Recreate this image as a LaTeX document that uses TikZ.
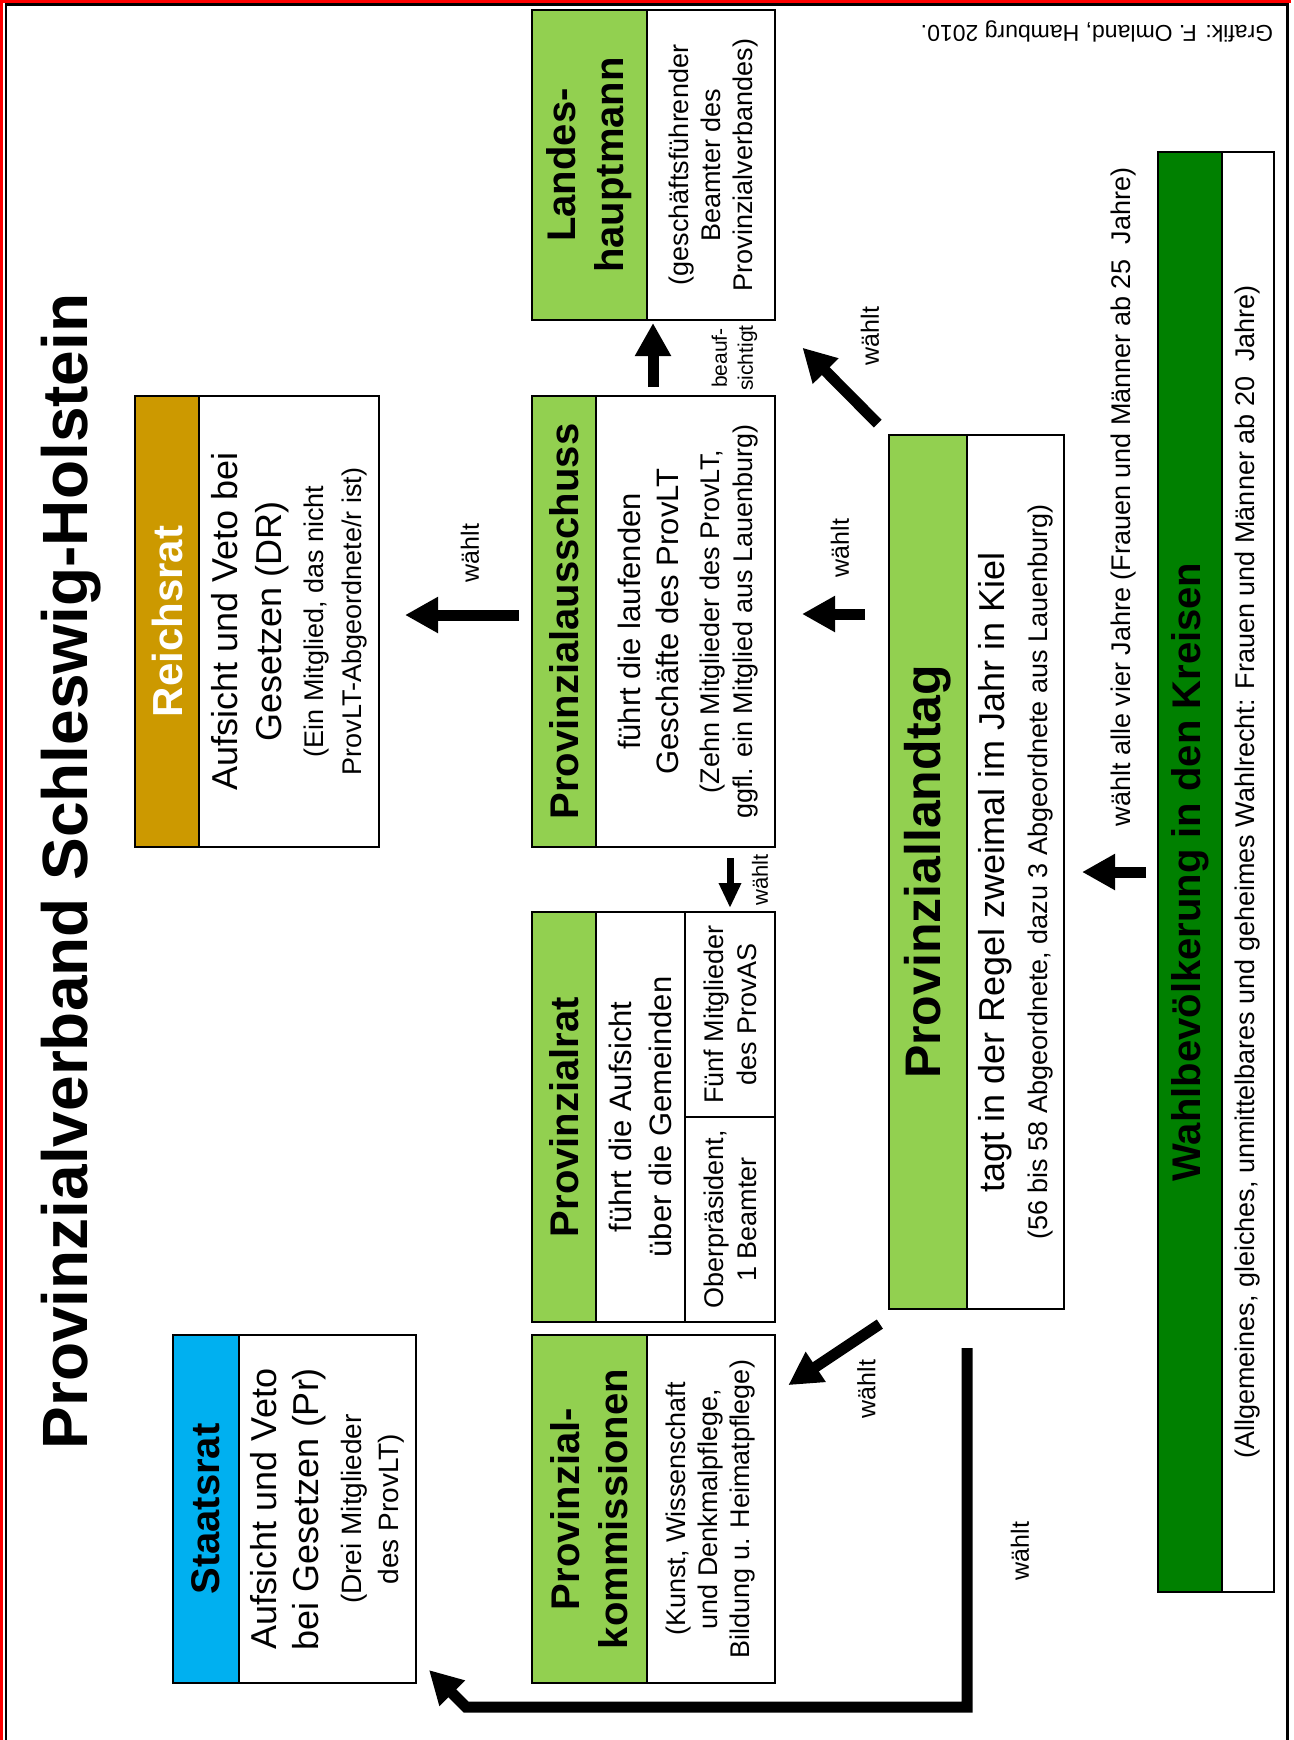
\documentclass[tikz,border=0pt]{standalone}
\usepackage{fontspec}
\setmainfont{Liberation Sans}
\usetikzlibrary{arrows.meta}

\definecolor{ratgold}{RGB}{204,153,0}
\definecolor{lightgreen}{RGB}{146,208,80}
\definecolor{staatblue}{RGB}{0,176,240}
\definecolor{darkgreen}{RGB}{0,128,0}

\newcommand{\fsz}[2]{\fontsize{#1}{#2}\selectfont}
\newcommand{\smalltxt}{\fsz{27}{32}}

\begin{document}
\begin{tikzpicture}[x=1pt,y=-1pt,
    box/.style={draw,line width=2.5pt,rotate=90,inner sep=0pt,outer sep=0pt,align=center,fill=white},
    head/.style={box,fill=lightgreen,font=\fsz{40}{48}\bfseries},
    blockarrow/.style={line width=11pt,-{Triangle[length=33pt,width=34pt]}},
    smallarrow/.style={line width=7pt,-{Triangle[length=25pt,width=21pt]}},
    waehlt/.style={rotate=90,inner sep=0pt,font=\fsz{25}{30}}]

    \useasboundingbox (0,0) rectangle (1293,1740);
    % frame
    \fill[red] (0,0) rectangle (2.5,1740);
    \fill[red] (0,0) rectangle (1291,3.3);
    \draw[line width=2.5pt] (6,1740) -- (6,4.6) -- (1287.5,4.6) -- (1287.5,1740);

    \node[rotate=90,anchor=base,font=\fsz{64}{70}\bfseries] (title) at (87,871.5) {Provinzialverband Schleswig-Holstein};
    \node[rotate=180,font=\fsz{23}{28}] (credit) at (1097,31) {Grafik: F. Omland, Hamburg 2010.};

    % Reichsrat
    \node[head,fill=ratgold,text=white,font=\fsz{42}{48}\bfseries,minimum width=451pt,minimum height=64pt] (rrh) at (167,621.5) {Reichsrat};
    \node[box,minimum width=451pt,minimum height=180pt,font=\fsz{36}{44}] (rr) at (289,621.5)
        {Aufsicht und Veto bei\\Gesetzen (DR)\\[-2pt]{\smalltxt (Ein Mitglied, das nicht}\\[-6pt]{\smalltxt ProvLT-Abgeordnete/r ist)}};

    % Provinzialausschuss
    \node[head,minimum width=451pt,minimum height=64pt] (pah) at (564,621.5) {Provinzialausschuss};
    \node[box,minimum width=451pt,minimum height=179pt,font=\fsz{31}{38},text depth=-14pt] (pa) at (685.5,621.5)
        {führt die laufenden\\Geschäfte des ProvLT\\[3pt]{\smalltxt (Zehn Mitglieder des ProvLT,}\\[-5pt]{\smalltxt ggfl. ein Mitglied aus Lauenburg)}};

    % Landeshauptmann
    \node[head,minimum width=310pt,minimum height=115pt] (lhh) at (589.5,165) {Landes-\\hauptmann};
    \node[box,minimum width=310pt,minimum height=128pt,font=\fsz{27}{32},text depth=-5pt] (lh) at (711,165)
        {(geschäftsführender\\Beamter des\\Provinzialverbandes)};

    % Provinzialrat
    \node[head,minimum width=410pt,minimum height=64pt] (prh) at (564,1117) {Provinzialrat};
    \node[box,minimum width=410pt,minimum height=89pt,font=\fsz{31}{40},text depth=-12pt] (pr) at (640.5,1117) {führt die Aufsicht\\über die Gemeinden};
    \node[box,minimum width=205pt,minimum height=90pt,font=\fsz{27}{33}] (prf) at (730,1014.5) {Fünf Mitglieder\\des ProvAS};
    \node[box,minimum width=205pt,minimum height=90pt,font=\fsz{27}{33}] (pro) at (730,1219.5) {Oberpräsident,\\1 Beamter};

    % Provinzialkommissionen
    \node[head,minimum width=348pt,minimum height=115pt] (pkh) at (589.5,1509) {Provinzial-\\kommissionen};
    \node[box,minimum width=348pt,minimum height=128pt,font=\fsz{27}{32}] (pk) at (711,1509)
        {(Kunst, Wissenschaft\\und Denkmalpflege,\\Bildung u. Heimatpflege)};

    % Staatsrat
    \node[head,fill=staatblue,minimum width=348pt,minimum height=66pt] (srh) at (206,1509) {Staatsrat};
    \node[box,minimum width=348pt,minimum height=177pt,font=\fsz{36}{42}] (sr) at (327.5,1509)
        {Aufsicht und Veto\\bei Gesetzen (Pr)\\[1pt]{\fsz{28}{33}(Drei Mitglieder}\\[-5pt]{\fsz{28}{33}des ProvLT)}};

    % Provinziallandtag
    \node[head,font=\fsz{50}{56}\bfseries,minimum width=874pt,minimum height=78pt] (plth) at (928,872) {Provinziallandtag};
    \node[box,minimum width=874pt,minimum height=97pt,font=\fsz{36}{43}] (plt) at (1015.5,872)
        {tagt in der Regel zweimal im Jahr in Kiel\\{\smalltxt (56 bis 58 Abgeordnete, dazu 3 Abgeordnete aus Lauenburg)}};

    % Wahlbevoelkerung
    \node[head,fill=darkgreen,minimum width=1440pt,minimum height=64pt] (wbh) at (1190,872) {Wahlbevölkerung in den Kreisen};
    \node[box,minimum width=1440pt,minimum height=52pt,font=\fsz{27}{32}] (wb) at (1248,872)
        {(Allgemeines, gleiches, unmittelbares und geheimes Wahlrecht: Frauen und Männer ab 20\ \ Jahre)};

    % connectors
    \draw[blockarrow,shorten <=13pt,shorten >=26pt] ([yshift=6.5pt]pah.north) -- ([yshift=6.5pt]rr.south);
    \node[waehlt] (w1) at (470,553) {wählt};

    \draw[blockarrow,shorten <=9pt,shorten >=3pt] ([xshift=-32.5pt]pa.east) -- ([xshift=-32.5pt]pa.east |- lh.west);
    \node[waehlt,font=\fsz{21}{26},align=center] (beauf) at (734.5,358) {beauf-\\sichtigt};

    \draw[blockarrow,shorten <=16pt,shorten >=39pt] (plth.north east) -- (lh.south west);
    \node[waehlt] (w2) at (870,336) {wählt};

    \draw[blockarrow,shorten <=24pt,shorten >=27pt] ([yshift=7.5pt]pa.south -| plth.north) -- ([yshift=7.5pt]pa.south);
    \node[waehlt] (w3) at (840,548) {wählt};

    \draw[blockarrow,shorten <=12pt,shorten >=18pt] (wbh.north) -- (plt.south);
    \node[waehlt,font=\fsz{27}{30}] (w4) at (1123.5,497) {wählt alle vier Jahre (Frauen und Männer ab 25\ \ Jahre)};

    \draw[smallarrow,shorten <=11pt,shorten >=4pt] (prf.east |- pa.west) -- (prf.east);
    \node[waehlt,font=\fsz{22}{26}] (w5) at (760,880) {wählt};

    \draw[blockarrow,shorten <=11pt,shorten >=16pt] ([yshift=-9pt]plth.north west) -- ([yshift=-59pt]pk.south east);
    \node[waehlt] (w6) at (866.5,1389) {wählt};

    \draw[blockarrow,line join=miter,shorten <=39pt] (plth.south west) -- ([yshift=-24pt]plth.south west |- sr.south west)
        -- ([xshift=50pt,yshift=-24pt]sr.south west) -- ([xshift=13pt,yshift=13pt]sr.south west);
    \node[waehlt] (w7) at (1020,1551) {wählt};
\end{tikzpicture}
\end{document}
